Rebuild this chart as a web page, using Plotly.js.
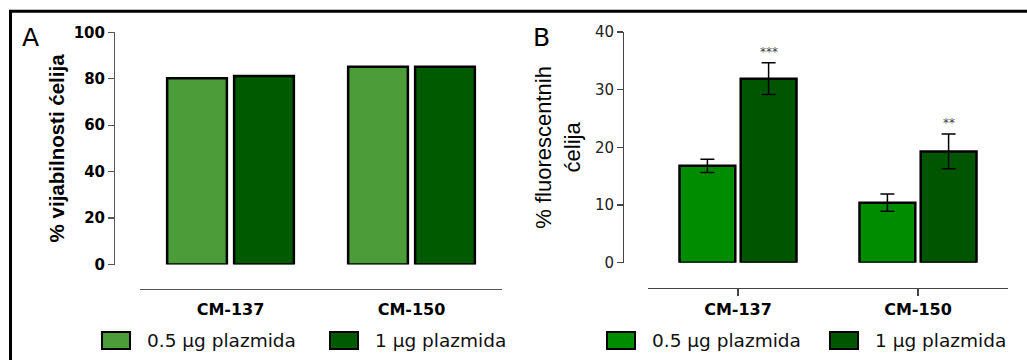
<!DOCTYPE html>
<html>
<head>
<meta charset="utf-8">
<script src="https://cdn.plot.ly/plotly-3.0.1.min.js"></script>
<style>html,body{margin:0;padding:0;background:#fff;}#chart{width:1027px;height:360px;}</style>
</head>
<body>
<div id="chart"></div>
<script>
// ---- data ----
var categories = ['CM-137', 'CM-150'];
var seriesNames = ['0.5 μg plazmida', '1 μg plazmida'];
var viability05 = [80.2, 85.2];
var viability1 = [81.2, 85.2];
var fluor05 = [16.8, 10.4];
var fluor05Err = [1.15, 1.5];
var fluor1 = [31.9, 19.3];
var fluor1Err = [2.75, 3.0];
var fluor1Stars = ['***', '**'];
var yTicksA = [0, 20, 40, 60, 80, 100];
var yTicksB = [0, 10, 20, 30, 40];

// ---- styles ----
var W = 1027, H = 360;
function px(x) { return x / W; }
function py(y) { return 1 - y / H; }
var colA1 = '#4c9c3a', colA2 = '#005a00';
var colB1 = '#008c00', colB2 = '#005600';
var FONT = 'DejaVu Sans, Arial, sans-serif';
var wA = 0.33, offA = [-0.35, 0.02];
var wB = 0.31, offB = [-0.325, 0.015];
var outline = {color: '#000', width: 2.5};

var traces = [
  {type: 'bar', name: seriesNames[0], x: categories, y: viability05, xaxis: 'x', yaxis: 'y',
   width: wA, offset: offA[0], marker: {color: colA1, line: outline}, showlegend: false},
  {type: 'bar', name: seriesNames[1], x: categories, y: viability1, xaxis: 'x', yaxis: 'y',
   width: wA, offset: offA[1], marker: {color: colA2, line: outline}, showlegend: false},
  {type: 'bar', name: seriesNames[0], x: categories, y: fluor05, xaxis: 'x2', yaxis: 'y2',
   width: wB, offset: offB[0], marker: {color: colB1, line: outline}, showlegend: false,
   error_y: {type: 'data', array: fluor05Err, visible: true, color: '#000', thickness: 1.5, width: 7}},
  {type: 'bar', name: seriesNames[1], x: categories, y: fluor1, xaxis: 'x2', yaxis: 'y2',
   width: wB, offset: offB[1], marker: {color: colB2, line: outline}, showlegend: false,
   error_y: {type: 'data', array: fluor1Err, visible: true, color: '#000', thickness: 1.5, width: 7}}
];

var annotations = [
  {xref: 'paper', yref: 'paper', x: px(30), y: py(38), xanchor: 'center', yanchor: 'middle',
   text: 'A', showarrow: false, font: {family: FONT, size: 25, color: '#000'}},
  {xref: 'paper', yref: 'paper', x: px(541), y: py(38), xanchor: 'center', yanchor: 'middle',
   text: 'B', showarrow: false, font: {family: FONT, size: 25, color: '#000'}}
];
categories.forEach(function (c, i) {
  if (fluor1Stars[i]) {
    annotations.push({xref: 'x2', yref: 'y2', x: i + offB[1] + wB / 2, y: fluor1[i] + fluor1Err[i],
      xanchor: 'center', yanchor: 'bottom', yshift: 2, text: fluor1Stars[i], showarrow: false,
      font: {family: FONT, size: 12, color: '#444'}});
  }
});

// manual legends (large swatches)
var shapes = [
  {type: 'line', xref: 'paper', yref: 'paper', x0: px(9), x1: 1.02, y0: py(11.3), y1: py(11.3), line: {color: '#000', width: 3}},
  {type: 'line', xref: 'paper', yref: 'paper', x0: px(10.5), x1: px(10.5), y0: py(10), y1: -0.05, line: {color: '#000', width: 3}}
];
var legendItems = [
  {box: 102, text: 145, color: colA1, label: seriesNames[0]},
  {box: 330, text: 373, color: colA2, label: seriesNames[1]},
  {box: 607, text: 650, color: colB1, label: seriesNames[0]},
  {box: 830, text: 873, color: colB2, label: seriesNames[1]}
];
legendItems.forEach(function (it) {
  shapes.push({type: 'rect', xref: 'paper', yref: 'paper', x0: px(it.box), x1: px(it.box + 28),
    y0: py(349), y1: py(332), fillcolor: it.color, line: {color: '#000', width: 2}});
  annotations.push({xref: 'paper', yref: 'paper', x: px(it.text), y: py(340.5), xanchor: 'left',
    yanchor: 'middle', text: it.label, showarrow: false, font: {family: FONT, size: 18.5, color: '#111'}});
});

var layout = {
  width: W, height: H,
  margin: {l: 0, r: 0, t: 0, b: 0},
  paper_bgcolor: '#fff', plot_bgcolor: 'rgba(0,0,0,0)',
  font: {family: FONT, color: '#000'},
  barmode: 'overlay',
  showlegend: false,
  xaxis: {domain: [px(140), px(502)], anchor: 'free', position: py(289), type: 'category',
    range: [-0.5, 1.5], showline: true, linecolor: '#555', linewidth: 1.2, ticks: '',
    showgrid: false, zeroline: false, ticklabelstandoff: 6,
    tickfont: {family: FONT, size: 16, weight: 'bold', color: '#000'}},
  yaxis: {domain: [py(264.5), py(32.3)], anchor: 'free', position: px(114), range: [0, 100],
    tickvals: yTicksA, ticks: 'outside', ticklen: 6, tickcolor: '#555', tickwidth: 1.2,
    showline: true, linecolor: '#555', linewidth: 1.2, showgrid: false, zeroline: false,
    tickfont: {family: FONT, size: 15, weight: 'bold', color: '#000'},
    title: {text: '% vijabilnosti ćelija', standoff: 2,
      font: {family: 'Liberation Sans, Arial, sans-serif', size: 20.5, weight: 'bold', color: '#000'}}},
  xaxis2: {domain: [px(648), px(1008)], anchor: 'free', position: py(288), type: 'category',
    range: [-0.5, 1.5], showline: true, linecolor: '#444', linewidth: 1.2, ticks: 'outside',
    ticklen: 7, tickcolor: '#444', tickwidth: 1.2, showgrid: false, zeroline: false,
    tickfont: {family: FONT, size: 16, weight: 'bold', color: '#000'}},
  yaxis2: {domain: [py(262.7), py(32)], anchor: 'free', position: px(623), range: [0, 40],
    tickvals: yTicksB, ticks: 'outside', ticklen: 6, tickcolor: '#444', tickwidth: 1.2,
    showline: true, linecolor: '#444', linewidth: 1.2, showgrid: false, zeroline: false,
    tickfont: {family: FONT, size: 15, color: '#222'},
    title: {text: '% fluorescentnih<br>ćelija', standoff: 7,
      font: {family: 'Liberation Sans, Arial, sans-serif', size: 22, color: '#000'}}},
  annotations: annotations,
  shapes: shapes
};

Plotly.newPlot('chart', traces, layout, {displayModeBar: false, staticPlot: true});
</script>
</body>
</html>
